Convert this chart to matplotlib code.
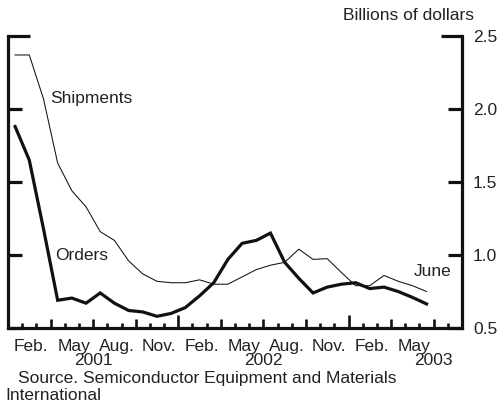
import numpy as np
import matplotlib
matplotlib.use("Agg")
import matplotlib.pyplot as plt
from matplotlib.transforms import blended_transform_factory

# Monthly data, Jan 2001 .. Jun 2003 (billions of dollars)
orders = [1.88, 1.65, 1.18, 0.69, 0.705, 0.67, 0.74, 0.67, 0.62, 0.61,
          0.58, 0.60, 0.64, 0.72, 0.81, 0.97, 1.08, 1.10, 1.15, 0.95,
          0.84, 0.74, 0.78, 0.80, 0.81, 0.77, 0.78, 0.75, 0.71, 0.665]
shipments = [2.37, 2.37, 2.07, 1.63, 1.44, 1.33, 1.16, 1.10, 0.96, 0.87,
             0.82, 0.81, 0.81, 0.83, 0.80, 0.80, 0.85, 0.90, 0.93, 0.95,
             1.04, 0.97, 0.975, 0.88, 0.79, 0.79, 0.86, 0.82, 0.79, 0.75]
month_labels = ["Feb.", "May", "Aug.", "Nov.", "Feb.", "May", "Aug.", "Nov.", "Feb.", "May"]
month_label_idx = [1, 4, 7, 10, 13, 16, 19, 22, 25, 28]   # months since Jan 2001
year_labels = ["2001", "2002", "2003"]
year_label_pos = [6, 18, 30]                              # months since Jan 2001 (July 1)
yticks = [0.5, 1.0, 1.5, 2.0, 2.5]
ytick_labels = ["0.5", "1.0", "1.5", "2.0", "2.5"]

plt.rcParams['font.family'] = ['Liberation Sans', 'DejaVu Sans']
TXT = "#222222"
LC = "#111111"
FS = 12.5

W, H = 499, 412
fig = plt.figure(figsize=(W / 100, H / 100), dpi=100)
ax = fig.add_axes([8 / W, (H - 328) / H, 454 / W, 292 / H])

x = np.arange(len(orders)) + 0.5
ax.plot(x, shipments, color=LC, lw=0.75, solid_joinstyle='miter')
ax.plot(x, orders, color=LC, lw=2.3, solid_joinstyle='miter')

ax.set_xlim(0, 32)
ax.set_ylim(0.5, 2.5)

for s in ['left', 'right', 'bottom']:
    ax.spines[s].set_linewidth(2.3)
    ax.spines[s].set_color(LC)
    ax.spines[s].set_capstyle('projecting')
ax.spines['top'].set_visible(False)

# y axis: ticks inward on both sides, labels on right
ax.set_yticks(yticks)
ax.set_yticklabels(ytick_labels)
ax.tick_params(axis='y', direction='in', left=True, right=True,
               labelleft=False, labelright=True, length=10, width=2.3,
               color=LC, labelsize=FS, labelcolor=TXT, pad=8)
yt = ax.yaxis.get_major_ticks()
yt[-1].tick1line.set_markersize(16)
yt[-1].tick2line.set_markersize(15)

# x axis: month boundary ticks with quarter / year emphasis
bounds = np.arange(1, 32)
ax.set_xticks(bounds)
ax.set_xticklabels([""] * len(bounds))
ax.tick_params(axis='x', direction='in', length=3.8, width=1.9, color=LC,
               bottom=True, top=False)
for b, t in zip(bounds, ax.xaxis.get_major_ticks()):
    if b % 12 == 0:
        t.tick1line.set_markersize(9.5)
    elif b % 3 == 0:
        t.tick1line.set_markersize(6.5)

tr = blended_transform_factory(ax.transData, ax.transAxes)
for lab, i in zip(month_labels, month_label_idx):
    ax.text(i + 0.5 + 0.15, -0.065, lab, transform=tr, ha='center', va='center',
            fontsize=FS, color=TXT)
for lab, p in zip(year_labels, year_label_pos):
    ax.text(p, -0.113, lab, transform=tr, ha='center', va='center',
            fontsize=FS, color=TXT)

ax.text(2.96, 2.07, "Shipments", ha='left', va='center', fontsize=FS, color=TXT)
ax.text(3.31, 1.0, "Orders", ha='left', va='center', fontsize=FS, color=TXT)
ax.text(28.6, 0.89, "June", ha='left', va='center', fontsize=FS, color=TXT)

fig.text(343 / W, 1 - 16 / H, "Billions of dollars", ha='left', va='center',
         fontsize=FS, color=TXT)
fig.text(18 / W, 1 - 378 / H, "Source. Semiconductor Equipment and Materials",
         ha='left', va='center', fontsize=FS, color=TXT)
fig.text(5 / W, 1 - 395 / H, "International", ha='left', va='center',
         fontsize=FS, color=TXT)

fig.savefig("out.png", dpi=100)
